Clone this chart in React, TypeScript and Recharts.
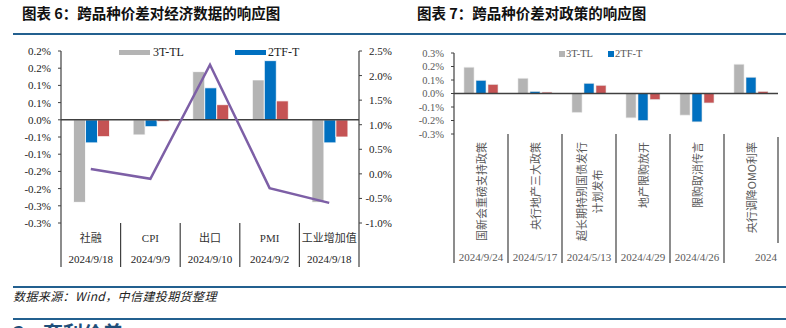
import React from 'react';
import { ComposedChart, Bar, Line, XAxis, YAxis, ReferenceLine } from 'recharts';

// ---------- Data: chart 6 (economic data) ----------
const econCategories = ['社融', 'CPI', '出口', 'PMI', '工业增加值'];
const econDates = ['2024/9/18', '2024/9/9', '2024/9/10', '2024/9/2', '2024/9/18'];
const econ3TTL = [-0.24, -0.044, 0.14, 0.116, -0.24];
const econ2TFT = [-0.067, -0.02, 0.093, 0.172, -0.067];
const econThird = [-0.049, -0.005, 0.044, 0.055, -0.05];
const econLineValues = [0.1, -0.1, 2.22, -0.29, -0.59];
const econLeftTicks = [-0.3, -0.25, -0.2, -0.15, -0.1, -0.05, 0, 0.05, 0.1, 0.15, 0.2];
const econRightTicks = [-1, -0.5, 0, 0.5, 1, 1.5, 2, 2.5];

// ---------- Data: chart 7 (policy) ----------
const policyCategories = ['国新会重磅支持政策', '央行地产三大政策', '超长期特别国债发行\n计划发布', '地产限购放开', '限购取消传言', '央行调降OMO利率'];
const policyDates = ['2024/9/24', '2024/5/17', '2024/5/13', '2024/4/29', '2024/4/26', '2024'];
const policy3TTL = [0.194, 0.112, -0.14, -0.18, -0.16, 0.216];
const policy2TFT = [0.097, 0.015, 0.075, -0.2, -0.21, 0.12];
const policyThird = [0.067, 0.01, 0.06, -0.045, -0.07, 0.015];
const policyTicks = [-0.3, -0.2, -0.1, 0, 0.1, 0.2, 0.3];

const econData = econCategories.map((c, i) => ({
  name: c,
  tl3: econ3TTL[i],
  tf2: econ2TFT[i],
  third: econThird[i],
  spread: econLineValues[i],
}));

const policyData = policyCategories.map((c, i) => ({
  name: c,
  tl3: policy3TTL[i],
  tf2: policy2TFT[i],
  third: policyThird[i],
}));

const GRAY = '#b4b4b4';
const BLUE = '#0070c0';
const RED = '#c55354';
const PURPLE = '#7d5fa6';
const RULE = '#23608f';
const AXIS = '#404040';
const SERIF = '"Liberation Serif", "Times New Roman", "Noto Sans CJK SC", serif';
const CJK = '"Noto Sans CJK SC", sans-serif';

const roundAway = (v: number) => {
  const s = v < 0 ? -1 : 1;
  const r = (s * Math.round(Math.abs(v) * 10 + 1e-9)) / 10;
  return r.toFixed(1) + '%';
};

const ECON_PLOT_W = 298;
const POLICY_PLOT_W = 324;

const EconXTick = (props: any) => {
  const { x, y, payload, index } = props;
  const band = ECON_PLOT_W / econCategories.length;
  const last = index === econCategories.length - 1;
  return (
    <g>
      <text x={x} y={y + 19} textAnchor="middle" fontSize={11} fill="#333" fontFamily={SERIF}>
        {payload.value}
      </text>
      <text x={x} y={y + 40} textAnchor="middle" fontSize={11} fill="#222" fontFamily={SERIF}>
        {econDates[index]}
      </text>
      <line x1={x - band / 2} x2={x - band / 2} y1={y} y2={y + 44} stroke={AXIS} strokeWidth={1.2} />
      {last && <line x1={x + band / 2} x2={x + band / 2} y1={y} y2={y + 44} stroke={AXIS} strokeWidth={1.2} />}
    </g>
  );
};

const EconRightTick = (props: any) => {
  const { x, y, payload } = props;
  return (
    <text x={x + 30} y={y} dy={4} textAnchor="end" fontSize={11} fill="#222" fontFamily={SERIF}>
      {payload.value.toFixed(1) + '%'}
    </text>
  );
};

const PolicyXTick = (props: any) => {
  const { x, y, payload, index } = props;
  const band = POLICY_PLOT_W / policyCategories.length;
  const last = index === policyCategories.length - 1;
  const lines: string[] = String(payload.value).split('\n');
  const fs = 11;
  const top = y + 8;
  const labelEls: any[] = [];
  if (lines.length === 1) {
    labelEls.push(
      <text key="l0" x={x} y={top} transform={`rotate(-90, ${x}, ${top})`} textAnchor="end" dominantBaseline="central" fontSize={fs} fill="#595959" fontFamily={CJK}>
        {lines[0]}
      </text>
    );
  } else {
    const x0 = x - 8;
    const x1 = x + 8;
    const c = top + (lines[0].length * fs) / 2;
    labelEls.push(
      <text key="l0" x={x0} y={top} transform={`rotate(-90, ${x0}, ${top})`} textAnchor="end" dominantBaseline="central" fontSize={fs} fill="#595959" fontFamily={CJK}>
        {lines[0]}
      </text>
    );
    labelEls.push(
      <text key="l1" x={x1} y={c} transform={`rotate(-90, ${x1}, ${c})`} textAnchor="middle" dominantBaseline="central" fontSize={fs} fill="#595959" fontFamily={CJK}>
        {lines[1]}
      </text>
    );
  }
  return (
    <g>
      {labelEls}
      <text x={last ? x + band / 2 - 1 : x} y={y + 127} textAnchor={last ? 'end' : 'middle'} fontSize={11} fill="#595959" fontFamily={SERIF}>
        {policyDates[index]}
      </text>
      <line x1={x - band / 2} x2={x - band / 2} y1={y} y2={y + 129} stroke={AXIS} strokeWidth={1.2} />
      {last && <line x1={x + band / 2} x2={x + band / 2} y1={y + 3} y2={y + 109} stroke={AXIS} strokeWidth={1.2} />}
    </g>
  );
};

const abs = (s: any): any => ({ position: 'absolute', ...s });

export default function App() {
  return (
    <div style={abs({ left: 0, top: 0, width: 786, height: 328, overflow: 'hidden', background: '#fff' })}>
      {/* Titles */}
      <div style={abs({ left: 22, top: 4, fontFamily: CJK, fontWeight: 700, fontSize: 14.5, lineHeight: '17px', color: '#111', whiteSpace: 'nowrap' })}>
        图表 6：跨品种价差对经济数据的响应图
      </div>
      <div style={abs({ left: 417, top: 4, fontFamily: CJK, fontWeight: 700, fontSize: 14.5, lineHeight: '17px', color: '#111', whiteSpace: 'nowrap' })}>
        图表 7：跨品种价差对政策的响应图
      </div>
      <div style={abs({ left: 13, top: 33, width: 773, height: 2, background: RULE })} />

      {/* Left chart */}
      <div style={abs({ left: 0, top: 40, width: 400, height: 240 })}>
        <ComposedChart width={400} height={240} data={econData} margin={{ top: 11, right: 0, bottom: 0, left: 0 }} barCategoryGap="21%" barGap={0}>
          <XAxis dataKey="name" xAxisId={0} height={57} axisLine={false} tickLine={false} tickSize={0} tickMargin={0} interval={0} tick={<EconXTick />} />
          <YAxis yAxisId="left" width={61} domain={[-0.3, 0.2]} ticks={econLeftTicks} tickFormatter={roundAway} axisLine={{ stroke: AXIS, strokeWidth: 1.2 }} tickLine={{ stroke: AXIS }} tickSize={3} tickMargin={7} tick={{ fontSize: 11, fill: '#222', fontFamily: SERIF }} interval={0} />
          <YAxis yAxisId="right" orientation="right" width={41} domain={[-1, 2.5]} ticks={econRightTicks} axisLine={{ stroke: AXIS, strokeWidth: 1.2 }} tickLine={{ stroke: AXIS }} tickSize={3} tickMargin={0} tick={<EconRightTick />} interval={0} />
          <Bar yAxisId="left" dataKey="tl3" name="3T-TL" fill={GRAY} stroke="#fff" strokeWidth={0.8} isAnimationActive={false} />
          <Bar yAxisId="left" dataKey="tf2" name="2TF-T" fill={BLUE} stroke="#fff" strokeWidth={0.8} isAnimationActive={false} />
          <Bar yAxisId="left" dataKey="third" name="third" fill={RED} stroke="#fff" strokeWidth={0.8} isAnimationActive={false} />
          <ReferenceLine yAxisId="left" y={0} stroke={AXIS} strokeWidth={1.5} />
          <Line yAxisId="right" dataKey="spread" stroke={PURPLE} strokeWidth={2.5} dot={false} isAnimationActive={false} />
        </ComposedChart>
      </div>
      {/* Left legend */}
      <div style={abs({ left: 119, top: 50, width: 31, height: 5, background: GRAY })} />
      <div style={abs({ left: 153, top: 45, fontFamily: SERIF, fontSize: 12, lineHeight: '14px', color: '#222' })}>3T-TL</div>
      <div style={abs({ left: 235, top: 50, width: 31, height: 5, background: BLUE })} />
      <div style={abs({ left: 268, top: 45, fontFamily: SERIF, fontSize: 12, lineHeight: '14px', color: '#222' })}>2TF-T</div>

      {/* Right chart */}
      <div style={abs({ left: 400, top: 40, width: 386, height: 240 })}>
        <ComposedChart width={386} height={240} data={policyData} margin={{ top: 13, right: 8, bottom: 0, left: 0 }} barCategoryGap="18.5%" barGap={2}>
          <XAxis dataKey="name" height={146} axisLine={false} tickLine={false} tickSize={0} tickMargin={0} interval={0} tick={<PolicyXTick />} />
          <YAxis width={54} domain={[-0.3, 0.3]} ticks={policyTicks} tickFormatter={(v: number) => v.toFixed(1) + '%'} axisLine={{ stroke: AXIS, strokeWidth: 1.2 }} tickLine={{ stroke: AXIS }} tickSize={3} tickMargin={7} tick={{ fontSize: 10.5, fill: '#595959', fontFamily: SERIF }} interval={0} />
          <Bar dataKey="tl3" name="3T-TL" fill={GRAY} stroke="#e6e6e6" strokeWidth={0.6} isAnimationActive={false} />
          <Bar dataKey="tf2" name="2TF-T" fill={BLUE} stroke="#e6e6e6" strokeWidth={0.6} isAnimationActive={false} />
          <Bar dataKey="third" name="third" fill={RED} stroke="#e6e6e6" strokeWidth={0.6} isAnimationActive={false} />
          <ReferenceLine y={0} stroke={AXIS} strokeWidth={1.5} />
        </ComposedChart>
      </div>
      {/* Right legend */}
      <div style={abs({ left: 559, top: 51, width: 6, height: 6, background: GRAY })} />
      <div style={abs({ left: 566, top: 47, fontFamily: SERIF, fontSize: 10.5, lineHeight: '13px', color: '#595959' })}>3T-TL</div>
      <div style={abs({ left: 608, top: 51, width: 6, height: 6, background: BLUE })} />
      <div style={abs({ left: 615, top: 47, fontFamily: SERIF, fontSize: 10.5, lineHeight: '13px', color: '#595959' })}>2TF-T</div>

      {/* Footer */}
      <div style={abs({ left: 13, top: 286, width: 773, height: 2, background: RULE })} />
      <div style={abs({ left: 13, top: 289, fontFamily: CJK, fontStyle: 'italic', fontSize: 12, lineHeight: '14px', letterSpacing: '0.4px', color: '#222', whiteSpace: 'nowrap' })}>
        数据来源：Wind，中信建投期货整理
      </div>
      <div style={abs({ left: 13, top: 318, width: 773, height: 2, background: RULE })} />
      <div style={abs({ left: 13, top: 321, fontFamily: CJK, fontWeight: 700, fontSize: 20, lineHeight: '24px', color: '#1f4e79', whiteSpace: 'pre' })}>
        {'3    套利价差'}
      </div>
    </div>
  );
}
